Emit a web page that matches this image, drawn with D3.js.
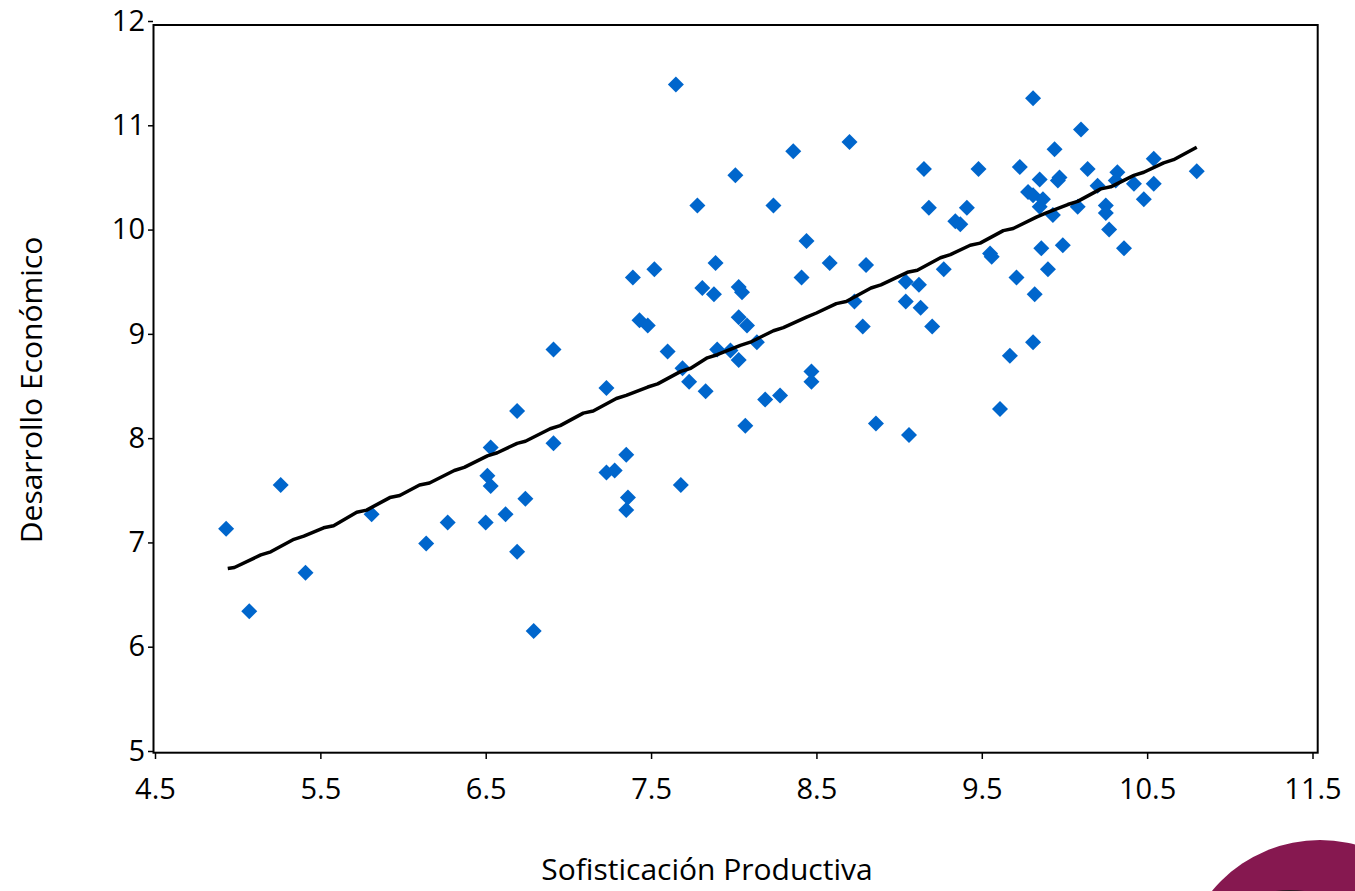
<!DOCTYPE html>
<html>
<head>
<meta charset="utf-8">
<script src="https://cdn.jsdelivr.net/npm/d3@7"></script>
<style>
  body { margin: 0; background: #fff; }
  svg { display: block; font-family: 'Open Sans', 'Noto Sans', sans-serif; }
</style>
</head>
<body>
<div id="chart"></div>
<script>
// Data
const sofisticacion = [
  4.93, 5.07, 5.26, 5.41, 5.81, 6.14, 6.27, 6.50, 6.51, 6.53, 6.53, 6.62, 6.69, 6.69, 6.74,
  6.79, 6.91, 6.91, 7.23, 7.23, 7.28, 7.35, 7.35, 7.36, 7.39, 7.43, 7.48, 7.52, 7.60, 7.65,
  7.68, 7.69, 7.73, 7.78, 7.81, 7.83, 7.88, 7.89, 7.90, 7.98, 8.01, 8.03, 8.05, 8.03, 8.03,
  8.08, 8.07, 8.14, 8.19, 8.24, 8.28, 8.36, 8.41, 8.44, 8.47, 8.47, 8.58, 8.70, 8.73, 8.78,
  8.80, 8.86, 9.04, 9.04, 9.06, 9.12, 9.13, 9.15, 9.18, 9.20, 9.27, 9.34, 9.37, 9.41, 9.48,
  9.55, 9.56, 9.61, 9.67, 9.71, 9.73, 9.78, 9.81, 9.81, 9.81, 9.82, 9.85, 9.85, 9.86, 9.87,
  9.90, 9.93, 9.94, 9.96, 9.97, 9.99, 10.08, 10.10, 10.14, 10.20, 10.25, 10.25, 10.27, 10.32, 10.31,
  10.36, 10.42, 10.48, 10.54, 10.54, 10.80
];
const desarrollo = [
  7.13, 6.34, 7.55, 6.71, 7.27, 6.99, 7.19, 7.19, 7.64, 7.91, 7.54, 7.27, 8.26, 6.91, 7.42,
  6.15, 8.85, 7.95, 8.48, 7.67, 7.69, 7.84, 7.31, 7.43, 9.54, 9.13, 9.08, 9.62, 8.83, 11.39,
  7.55, 8.67, 8.54, 10.23, 9.44, 8.45, 9.38, 9.68, 8.85, 8.84, 10.52, 9.45, 9.40, 9.16, 8.75,
  9.08, 8.12, 8.92, 8.37, 10.23, 8.41, 10.75, 9.54, 9.89, 8.64, 8.54, 9.68, 10.84, 9.31, 9.07,
  9.66, 8.14, 9.50, 9.31, 8.03, 9.47, 9.25, 10.58, 10.21, 9.07, 9.62, 10.08, 10.05, 10.21, 10.58,
  9.77, 9.74, 8.28, 8.79, 9.54, 10.60, 10.36, 10.33, 11.26, 8.92, 9.38, 10.48, 10.22, 9.82, 10.29,
  9.62, 10.14, 10.77, 10.47, 10.50, 9.85, 10.22, 10.96, 10.58, 10.42, 10.23, 10.16, 10.00, 10.55, 10.47,
  9.82, 10.44, 10.29, 10.68, 10.44, 10.56
];

// Fitted line (smoothed)
const ajusteX = [
  4.94, 4.98, 5.14, 5.20, 5.34, 5.40, 5.52, 5.58, 5.72, 5.78, 5.92, 5.98, 6.10, 6.16, 6.31,
  6.37, 6.51, 6.57, 6.69, 6.74, 6.89, 6.95, 7.09, 7.15, 7.29, 7.35, 7.48, 7.54, 7.68, 7.74,
  7.84, 7.90, 8.04, 8.10, 8.24, 8.30, 8.44, 8.50, 8.62, 8.68, 8.83, 8.89, 9.05, 9.11, 9.25,
  9.31, 9.43, 9.49, 9.63, 9.69, 9.83, 9.89, 10.02, 10.08, 10.22, 10.28, 10.42, 10.48, 10.60, 10.66,
  10.80
];
const ajusteY = [
  6.75, 6.76, 6.88, 6.91, 7.03, 7.06, 7.14, 7.16, 7.29, 7.31, 7.43, 7.45, 7.55, 7.57, 7.69,
  7.72, 7.83, 7.86, 7.95, 7.97, 8.09, 8.12, 8.24, 8.26, 8.38, 8.41, 8.49, 8.52, 8.64, 8.67,
  8.77, 8.80, 8.89, 8.92, 9.03, 9.06, 9.16, 9.20, 9.29, 9.31, 9.44, 9.47, 9.59, 9.61, 9.73,
  9.76, 9.85, 9.87, 9.99, 10.01, 10.12, 10.16, 10.24, 10.27, 10.39, 10.41, 10.52, 10.55, 10.64, 10.67,
  10.79
];

const xTicks = [4.5, 5.5, 6.5, 7.5, 8.5, 9.5, 10.5, 11.5];
const yTicks = [5, 6, 7, 8, 9, 10, 11, 12];

const width = 1355;
const height = 891;

const svg = d3
  .select('#chart')
  .append('svg')
  .attr('width', width)
  .attr('height', height);

// Scales
const x = d3.scaleLinear().domain([4.5, 11.5]).range([155, 1312.5]);
const y = d3.scaleLinear().domain([5, 12]).range([751, 21]);

// Plot frame
svg
  .append('rect')
  .attr('x', 153.5)
  .attr('y', 25)
  .attr('width', 1317.7 - 153.5)
  .attr('height', 752.7 - 25)
  .attr('fill', 'none')
  .attr('stroke', '#000')
  .attr('stroke-width', 2);

// Axes
const xAxis = svg
  .append('g')
  .attr('transform', 'translate(0,753)')
  .call(d3.axisBottom(x).tickValues(xTicks).tickSize(6).tickPadding(19).tickFormat(d3.format('.1f')));

const yAxis = svg
  .append('g')
  .attr('transform', 'translate(153,0)')
  .call(d3.axisLeft(y).tickValues(yTicks).tickSize(5).tickPadding(3).tickFormat(d3.format('d')));

[xAxis, yAxis].forEach((g) => {
  g.select('.domain').remove();
  g.selectAll('line').attr('stroke', '#000').attr('stroke-width', 1.5);
  g.selectAll('text')
    .attr('fill', '#000')
    .style('font-size', '29px')
    .style('font-family', "'Open Sans', 'Noto Sans', sans-serif");
});

// Points
const puntos = sofisticacion.map((v, i) => ({ x: v, y: desarrollo[i] }));

svg
  .append('g')
  .selectAll('path')
  .data(puntos)
  .enter()
  .append('path')
  .attr('d', d3.symbol(d3.symbolSquare, 128))
  .attr('transform', (d) => `translate(${x(d.x)},${y(d.y)}) rotate(45)`)
  .attr('fill', '#0066cc');

// Fitted line
const ajuste = ajusteX.map((v, i) => [v, ajusteY[i]]);

svg
  .append('path')
  .datum(ajuste)
  .attr('fill', 'none')
  .attr('stroke', '#000')
  .attr('stroke-width', 3.5)
  .attr('stroke-linejoin', 'round')
  .attr('d', d3.line().x((d) => x(d[0])).y((d) => y(d[1])));

// Axis titles
svg
  .append('text')
  .attr('x', 707)
  .attr('y', 880)
  .attr('text-anchor', 'middle')
  .style('font-size', '30px')
  .style('font-weight', 500)
  .attr('fill', '#000')
  .text('Sofisticación Productiva');

svg
  .append('text')
  .attr('transform', 'translate(42,390) rotate(-90)')
  .attr('text-anchor', 'middle')
  .style('font-size', '30px')
  .style('font-weight', 500)
  .attr('fill', '#000')
  .text('Desarrollo Económico');

// Logo fragment in the bottom right corner
svg
  .append('circle')
  .attr('cx', 1320)
  .attr('cy', 980)
  .attr('r', 140)
  .attr('fill', '#861850');

svg
  .append('circle')
  .attr('cx', 1290)
  .attr('cy', 993)
  .attr('r', 103)
  .attr('fill', '#2a1a22');
</script>
</body>
</html>
